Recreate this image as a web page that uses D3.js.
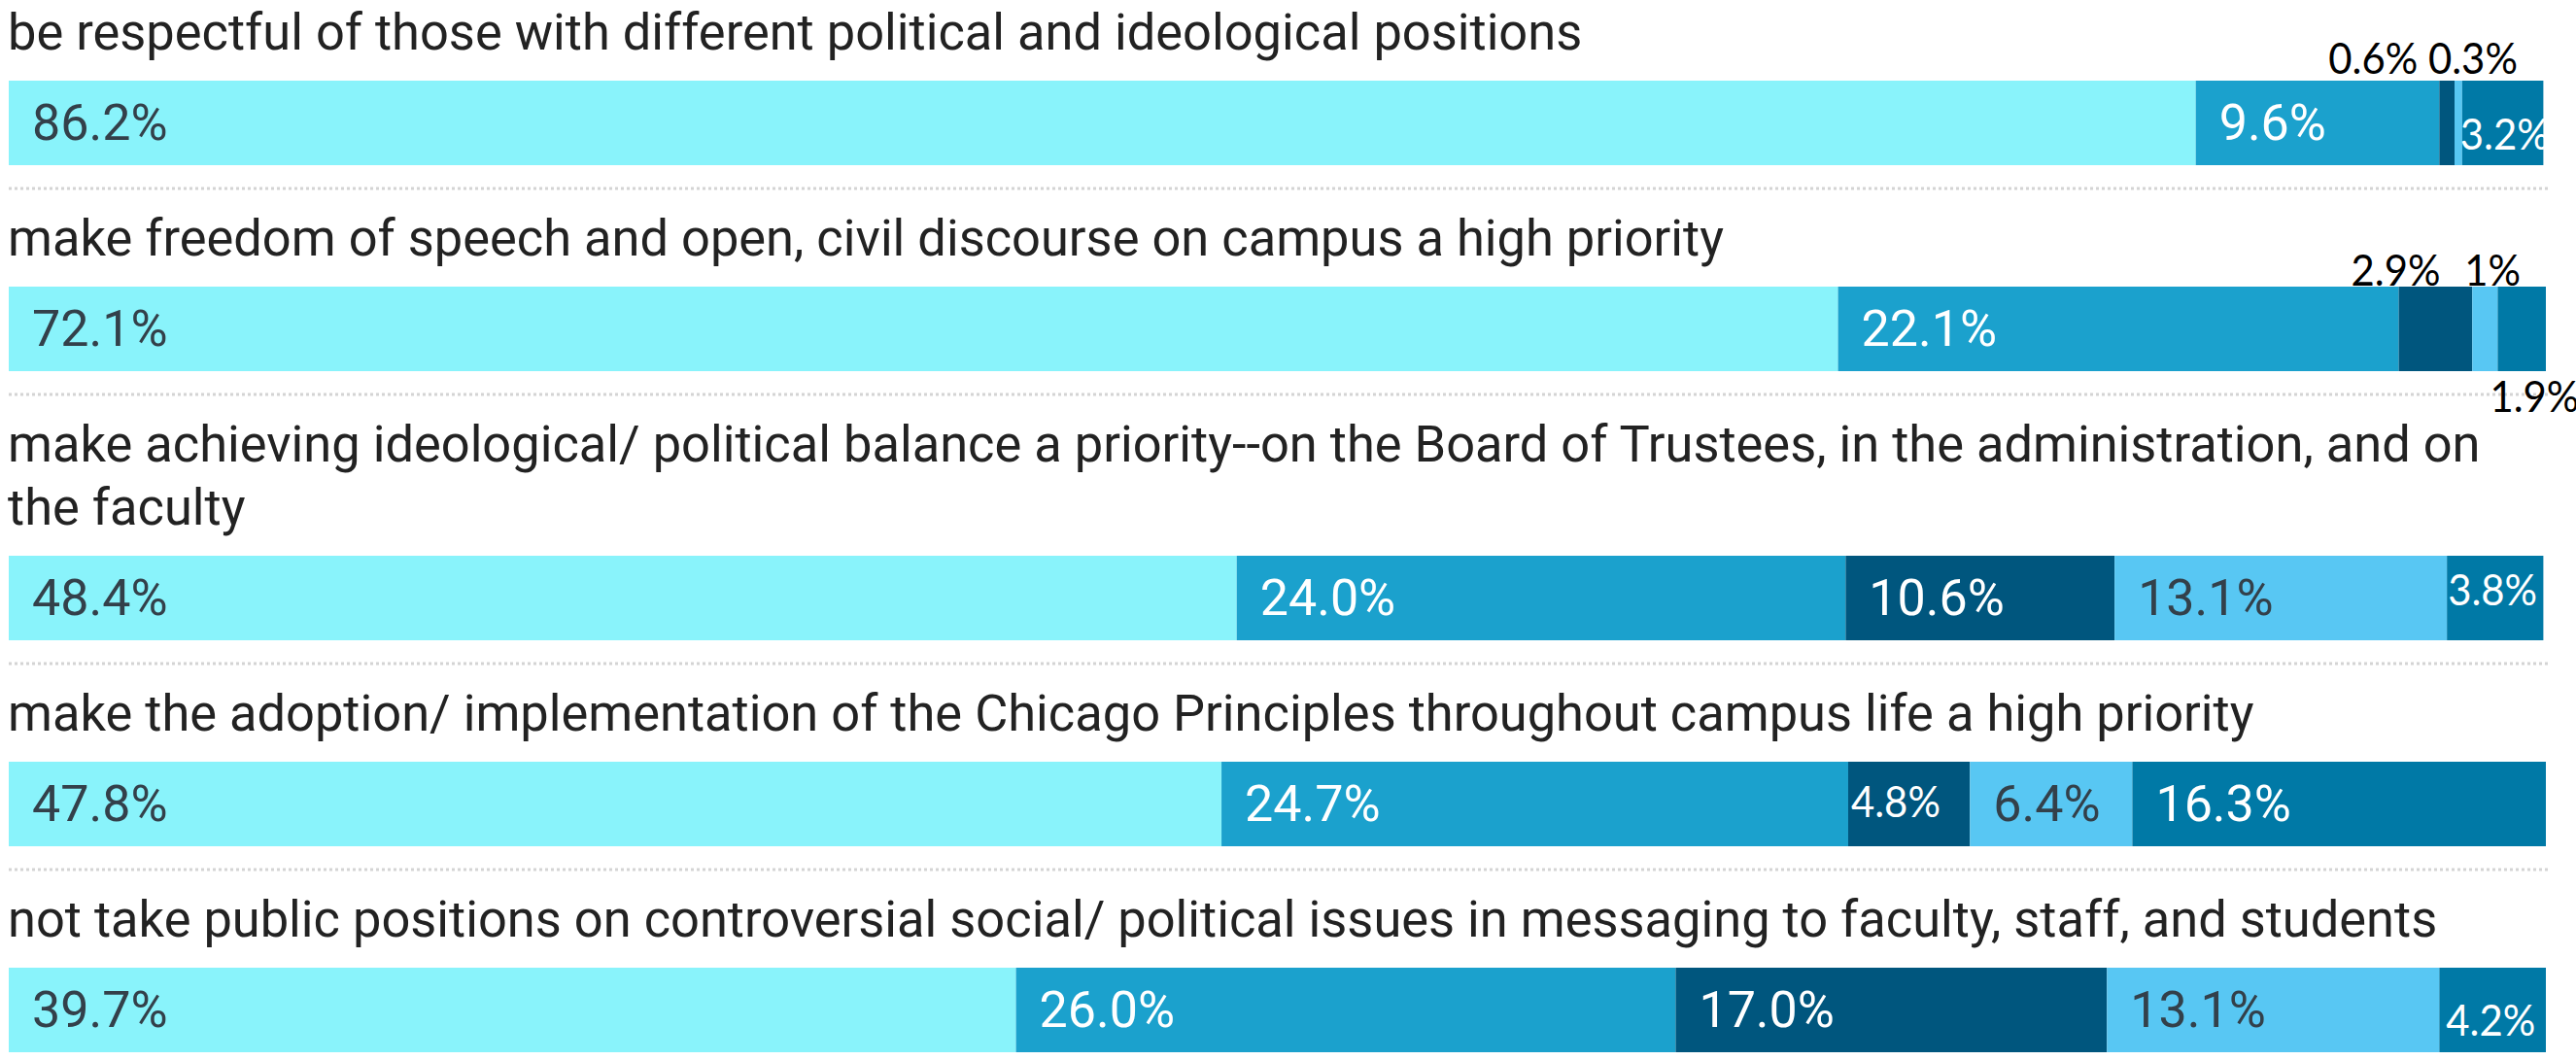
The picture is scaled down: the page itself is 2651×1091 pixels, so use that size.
<!DOCTYPE html>
<html>
<head>
<meta charset="utf-8">
<script src="https://cdn.jsdelivr.net/npm/d3@7"></script>
<style>
  html, body { margin: 0; padding: 0; background: #fff; }
  svg { display: block; }
</style>
</head>
<body>
<svg id="chart" width="2651" height="1091"></svg>
<script>
// ---------- DATA ----------
const statements = [
  ["be respectful of those with different political and ideological positions"],
  ["make freedom of speech and open, civil discourse on campus a high priority"],
  ["make achieving ideological/ political balance a priority--on the Board of Trustees, in the administration, and on", "the faculty"],
  ["make the adoption/ implementation of the Chicago Principles throughout campus life a high priority"],
  ["not take public positions on controversial social/ political issues in messaging to faculty, staff, and students"]
];
const seriesNames = ["s1", "s2", "s3", "s4", "s5"];
const s1 = [86.2, 72.1, 48.4, 47.8, 39.7];
const s2 = [9.6, 22.1, 24.0, 24.7, 26.0];
const s3 = [0.6, 2.9, 10.6, 4.8, 17.0];
const s4 = [0.3, 1.0, 13.1, 6.4, 13.1];
const s5 = [3.2, 1.9, 3.8, 16.3, 4.2];
// which segments carry the chart's own (Roboto) label
const builtInLabels = [
  [true, true, false, false, false],
  [true, true, false, false, false],
  [true, true, true, true, false],
  [true, true, false, true, true],
  [true, true, true, true, false]
];
// hand-added annotations (row, segment, text, placement)
const notes = [
  { row: 0, seg: 2, text: "0.6% 0.3%", place: "above" },
  { row: 0, seg: 4, text: "3.2%", place: "inside" },
  { row: 1, seg: 2, text: "2.9%", place: "above" },
  { row: 1, seg: 3, text: "1%", place: "above" },
  { row: 1, seg: 4, text: "1.9%", place: "below" },
  { row: 2, seg: 4, text: "3.8%", place: "inside" },
  { row: 3, seg: 2, text: "4.8%", place: "inside" },
  { row: 4, seg: 4, text: "4.2%", place: "inside" }
];

// ---------- STYLE ----------
const colors = ["#89F3FB", "#1BA1CD", "#00567E", "#58C7F3", "#0079A6"];
const labelColors = ["#33404a", "#ffffff", "#ffffff", "#33404a", "#ffffff"];
const W = 2651, H = 1091;
const left = 9, right = 2620;
const barH = 87;
const titleSize = 52.4, lineH = 65;
const firstBaselineFromSep = 69, titleToBar = 32, barToSep = 24;
// annotation offsets per note (style only)
const noteOffsets = [
  { dx: -114, dy: -7 },
  { dx: -2, dy: 71 },
  { dx: -49, dy: -1 },
  { dx: -8, dy: -1 },
  { dx: -8, dy: 42 },
  { dx: 1, dy: 51 },
  { dx: 3, dy: 57 },
  { dx: 7, dy: 70 }
];

const rows = statements.map((lines, i) => {
  const obj = { lines, i };
  seriesNames.forEach((k, j) => obj[k] = [s1, s2, s3, s4, s5][j][i]);
  return obj;
});

// layout rows vertically
let sepY = -18;
rows.forEach((r, i) => {
  r.sepAbove = sepY;
  r.firstBaseline = sepY + firstBaselineFromSep;
  r.barTop = r.firstBaseline + (r.lines.length - 1) * lineH + titleToBar;
  r.barBottom = r.barTop + barH;
  sepY = r.barBottom + barToSep;
  r.sepBelow = sepY;
});

const x = d3.scaleLinear().domain([0, 100]).range([left, right]);
const stack = d3.stack().keys(seriesNames);
const series = stack(rows);

const svg = d3.select("#chart");

// separators
svg.append("g").selectAll("line")
  .data(rows.slice(0, rows.length - 1))
  .join("line")
  .attr("x1", left).attr("x2", right + 2)
  .attr("y1", d => d.sepBelow).attr("y2", d => d.sepBelow)
  .attr("stroke", "#d4d4d4").attr("stroke-width", 3)
  .attr("stroke-dasharray", "3,3");

// titles
const titles = svg.append("g")
  .attr("font-family", "Roboto, sans-serif")
  .attr("font-size", titleSize)
  .attr("fill", "#222");
rows.forEach(r => {
  r.lines.forEach((t, k) => {
    titles.append("text")
      .attr("x", left - 1)
      .attr("y", r.firstBaseline + k * lineH)
      .text(t);
  });
});

// bars
const segG = svg.append("g").selectAll("g")
  .data(series)
  .join("g")
  .attr("fill", (d, j) => colors[j]);
segG.selectAll("rect")
  .data(d => d)
  .join("rect")
  .attr("x", d => x(d[0]))
  .attr("width", d => x(d[1]) - x(d[0]))
  .attr("y", d => d.data.barTop)
  .attr("height", barH);

// built-in labels
const lab = svg.append("g")
  .attr("font-family", "Roboto, sans-serif")
  .attr("font-size", 52);
series.forEach((s, j) => {
  s.forEach((d, i) => {
    if (!builtInLabels[i][j]) return;
    lab.append("text")
      .attr("x", x(d[0]) + 24)
      .attr("y", d.data.barTop + 61)
      .attr("fill", labelColors[j])
      .text((d[1] - d[0]).toFixed(1) + "%");
  });
});

// annotations
const ann = svg.append("g")
  .attr("font-family", "Lato, 'Open Sans', sans-serif")
  .attr("font-size", 45);
notes.forEach((n, k) => {
  const d = series[n.seg][n.row];
  const off = noteOffsets[k];
  const base = n.place === "below" ? d.data.barBottom : d.data.barTop;
  ann.append("text")
    .attr("transform", `translate(${x(d[0]) + off.dx},${base + off.dy}) scale(0.93,1)`)
    .attr("fill", n.place === "inside" ? "#ffffff" : "#000000")
    .text(n.text);
});
</script>
</body>
</html>
